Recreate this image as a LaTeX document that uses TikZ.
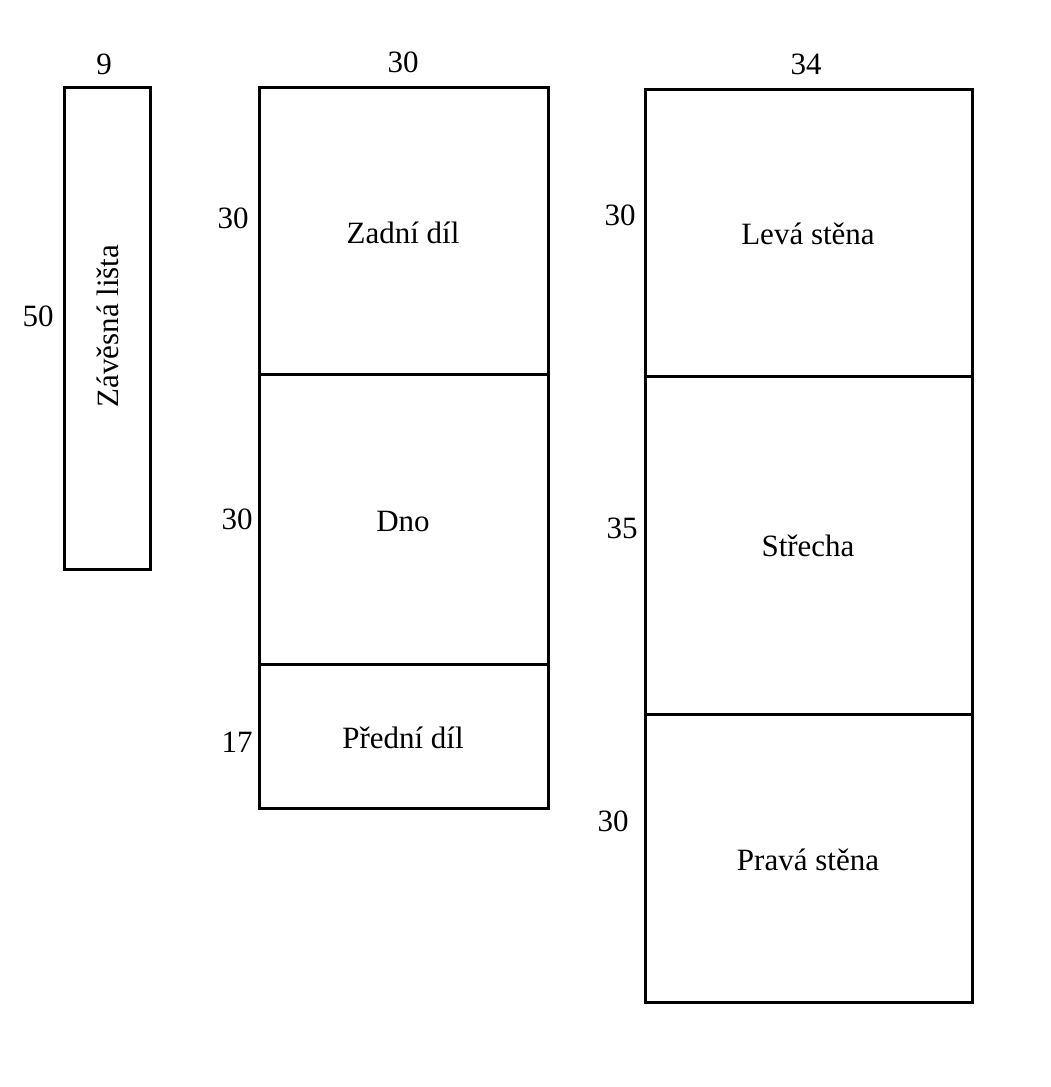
\documentclass[tikz,border=0pt]{standalone}
\usepackage{fontspec}
\setmainfont{Liberation Serif}
\tikzset{
	dil/.style={line width=3pt},
	popis/.style={font=\fontsize{31}{36}\selectfont, inner sep=0pt}
}
\begin{document}
\begin{tikzpicture}[x=1pt, y=-1pt]
\useasboundingbox (0,0) rectangle (1050,1087);
% Lista:
	\draw [dil] (64,87) rectangle (150,569);
	\node [popis] (sirkaL) at (104,64) {9};
	\node [popis] (vyskaL) at (38,316) {50};
	\node [popis, rotate=90] (lista) at (108,326) {Závěsná lišta};
% Prostredni sloupec:
	\draw [dil] (259,87) rectangle (548,808);
	\draw [dil] (259,374) -- (548,374);
	\draw [dil] (259,664) -- (548,664);
	\node [popis] (sirkaS) at (403,62) {30};
	\node [popis] (vyskaZ) at (233,218) {30};
	\node [popis] (vyskaD) at (237,519) {30};
	\node [popis] (vyskaP) at (237,742) {17};
	\node [popis] (zadni) at (403,233) {Zadní díl};
	\node [popis] (dno) at (403,521) {Dno};
	\node [popis] (predni) at (403,738) {Přední díl};
% Pravy sloupec:
	\draw [dil] (645,89) rectangle (972,1002);
	\draw [dil] (645,376) -- (972,376);
	\draw [dil] (645,714) -- (972,714);
	\node [popis] (sirkaP) at (806,64) {34};
	\node [popis] (vyskaLS) at (620,215) {30};
	\node [popis] (vyskaS) at (622,528) {35};
	\node [popis] (vyskaPS) at (613,821) {30};
	\node [popis] (leva) at (808,234) {Levá stěna};
	\node [popis] (strecha) at (808,546) {Střecha};
	\node [popis] (prava) at (808,860) {Pravá stěna};
\end{tikzpicture}
\end{document}
